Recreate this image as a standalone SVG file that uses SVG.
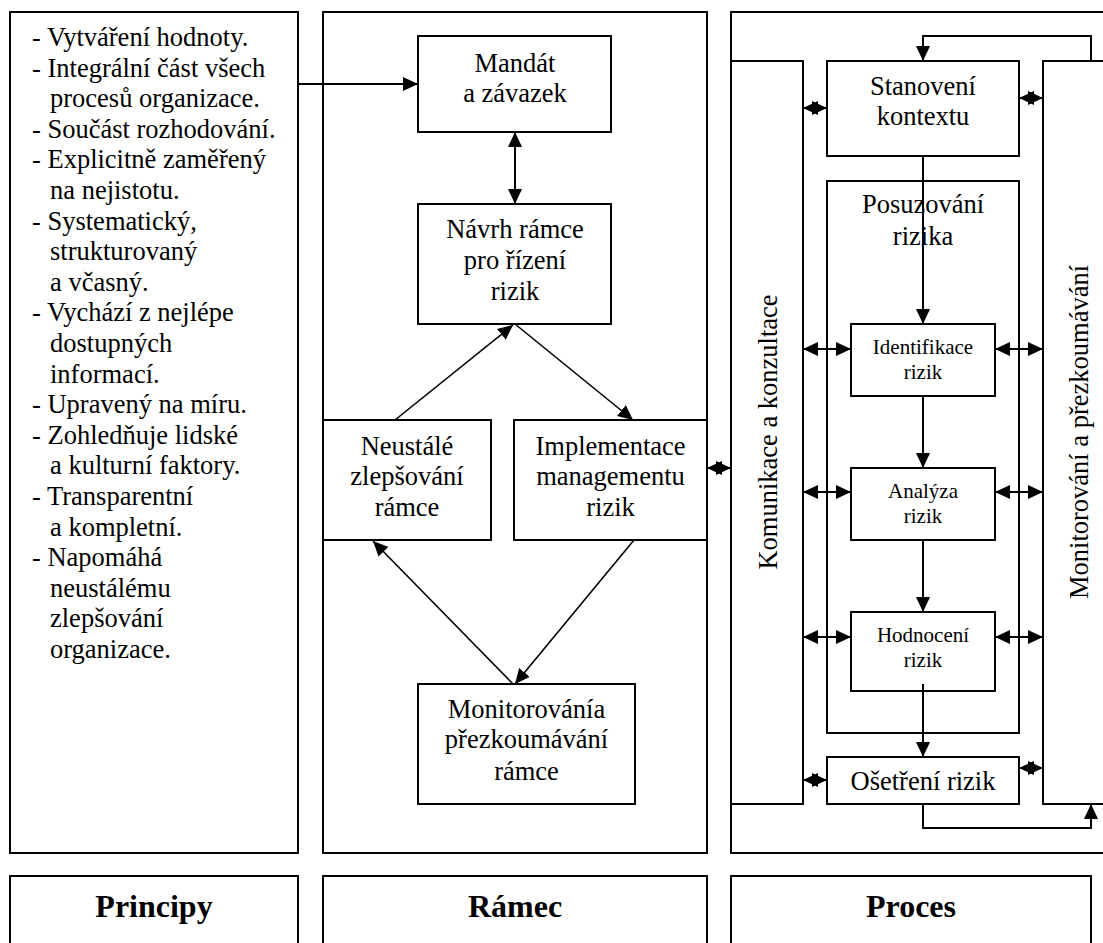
<svg xmlns="http://www.w3.org/2000/svg" width="1103" height="943" viewBox="0 0 1103 943">
<style>
.box{fill:#fff;stroke:#000;stroke-width:2}
.frame{fill:none;stroke:#000;stroke-width:2}
.t{font-family:"Liberation Serif","Times New Roman",serif;font-size:26.5px;fill:#000}
.c{text-anchor:middle}
.s{font-size:21px}
.b{font-family:"Liberation Serif","Times New Roman",serif;font-size:32px;font-weight:bold;text-anchor:middle}
.ln{fill:none;stroke:#000;stroke-width:2}
.d{fill:none;stroke:#000;stroke-width:1.6}
</style>
<defs>
<marker id="ah" markerUnits="userSpaceOnUse" markerWidth="15" markerHeight="14" refX="15" refY="7" orient="auto-start-reverse">
<path d="M0,0 L15,7 L0,14 z" fill="#000"/>
</marker>
</defs>
<rect width="1103" height="943" fill="#fff"/>

<g id="frames">
<rect class="frame" x="10" y="12" width="288" height="841"/>
<rect class="frame" x="323" y="12" width="384" height="841"/>
<rect class="frame" x="731" y="12" width="420" height="841"/>
</g>

<g id="principy">
<text class="t" x="32">
<tspan x="32" y="46">- Vytváření hodnoty.</tspan>
<tspan x="32" y="76.6">- Integrální část všech</tspan>
<tspan x="50" y="107.2">procesů organizace.</tspan>
<tspan x="32" y="137.8">- Součást rozhodování.</tspan>
<tspan x="32" y="168.4">- Explicitně zaměřený</tspan>
<tspan x="50" y="199">na nejistotu.</tspan>
<tspan x="32" y="229.6">- Systematický,</tspan>
<tspan x="50" y="260.2">strukturovaný</tspan>
<tspan x="50" y="290.8">a včasný.</tspan>
<tspan x="32" y="321.4">- Vychází z nejlépe</tspan>
<tspan x="50" y="352">dostupných</tspan>
<tspan x="50" y="382.6">informací.</tspan>
<tspan x="32" y="413.2">- Upravený na míru.</tspan>
<tspan x="32" y="443.8">- Zohledňuje lidské</tspan>
<tspan x="50" y="474.4">a kulturní faktory.</tspan>
<tspan x="32" y="505">- Transparentní</tspan>
<tspan x="50" y="535.6">a kompletní.</tspan>
<tspan x="32" y="566.2">- Napomáhá</tspan>
<tspan x="50" y="596.8">neustálému</tspan>
<tspan x="50" y="627.4">zlepšování</tspan>
<tspan x="50" y="658">organizace.</tspan>
</text>
</g>

<g id="mandat">
<rect class="box" x="418" y="36" width="193" height="96"/>
<text class="t c" x="515" y="72">Mandát</text>
<text class="t c" x="515" y="102">a závazek</text>
</g>
<g id="navrh">
<rect class="box" x="418" y="204" width="193" height="120"/>
<text class="t c" x="515" y="238">Návrh rámce</text>
<text class="t c" x="515" y="269">pro řízení</text>
<text class="t c" x="515" y="300">rizik</text>
</g>
<g id="neustale">
<rect class="box" x="323" y="420" width="168" height="120"/>
<text class="t c" x="407" y="455">Neustálé</text>
<text class="t c" x="407" y="485">zlepšování</text>
<text class="t c" x="407" y="516">rámce</text>
</g>
<g id="implementace">
<rect class="box" x="514" y="420" width="193" height="120"/>
<text class="t c" x="610.5" y="455">Implementace</text>
<text class="t c" x="610.5" y="485">managementu</text>
<text class="t c" x="610.5" y="516">rizik</text>
</g>
<g id="monitorovani-ramce">
<rect class="box" x="418" y="684" width="217" height="120"/>
<text class="t c" x="526.5" y="718">Monitorovánía</text>
<text class="t c" x="526.5" y="748">přezkoumávání</text>
<text class="t c" x="526.5" y="780">rámce</text>
</g>

<g id="komunikace">
<rect class="box" x="731" y="61" width="72" height="743"/>
<text class="t c" transform="translate(777 432) rotate(-90)" x="0" y="0">Komunikace a konzultace</text>
</g>
<g id="monitorovani">
<rect class="box" x="1043" y="61" width="100" height="743"/>
<text class="t c" transform="translate(1088 432) rotate(-90)" x="0" y="0">Monitorování a přezkoumávání</text>
</g>
<g id="stanoveni">
<rect class="box" x="827" y="61" width="192" height="95"/>
<text class="t c" x="923" y="95">Stanovení</text>
<text class="t c" x="923" y="125">kontextu</text>
</g>
<g id="posuzovani">
<rect class="box" x="827" y="181" width="192" height="552"/>
<text class="t c" x="923" y="213">Posuzování</text>
<text class="t c" x="923" y="245">rizika</text>
</g>
<g id="identifikace">
<rect class="box" x="851" y="324" width="144" height="72"/>
<text class="t s c" x="923" y="354">Identifikace</text>
<text class="t s c" x="923" y="379">rizik</text>
</g>
<g id="analyza">
<rect class="box" x="851" y="468" width="144" height="72"/>
<text class="t s c" x="923" y="498">Analýza</text>
<text class="t s c" x="923" y="523">rizik</text>
</g>
<g id="hodnoceni">
<rect class="box" x="851" y="612" width="144" height="79"/>
<text class="t s c" x="923" y="642">Hodnocení</text>
<text class="t s c" x="923" y="667">rizik</text>
</g>
<g id="osetreni">
<rect class="box" x="827" y="757" width="192" height="47"/>
<text class="t c" x="923" y="790">Ošetření rizik</text>
</g>

<g id="labels">
<rect class="box" x="10" y="876" width="288" height="100"/>
<text class="b" x="154" y="917">Principy</text>
<rect class="box" x="323" y="876" width="384" height="100"/>
<text class="b" x="515" y="917">Rámec</text>
<rect class="box" x="731" y="876" width="360" height="100"/>
<text class="b" x="911" y="917">Proces</text>
</g>

<g id="connectors">
<path class="ln" d="M298,84 H418" marker-end="url(#ah)"/>
<path class="ln" d="M515,132 V204" marker-start="url(#ah)" marker-end="url(#ah)"/>
<path class="d" d="M395,420 L513,325" marker-end="url(#ah)"/>
<path class="d" d="M515,324 L633,420" marker-end="url(#ah)"/>
<path class="d" d="M634,540 L515,684" marker-end="url(#ah)"/>
<path class="d" d="M513,684 L373,541" marker-end="url(#ah)"/>
<path class="ln" d="M707,468 H731" marker-start="url(#ah)" marker-end="url(#ah)"/>
<path class="ln" d="M803,108 H827" marker-start="url(#ah)" marker-end="url(#ah)"/>
<path class="ln" d="M1019,98 H1043" marker-start="url(#ah)" marker-end="url(#ah)"/>
<path class="ln" d="M803,780 H827" marker-start="url(#ah)" marker-end="url(#ah)"/>
<path class="ln" d="M1019,768 H1043" marker-start="url(#ah)" marker-end="url(#ah)"/>
<path class="ln" d="M803,349 H851" marker-start="url(#ah)" marker-end="url(#ah)"/>
<path class="ln" d="M995,349 H1043" marker-start="url(#ah)" marker-end="url(#ah)"/>
<path class="ln" d="M803,492 H851" marker-start="url(#ah)" marker-end="url(#ah)"/>
<path class="ln" d="M995,492 H1043" marker-start="url(#ah)" marker-end="url(#ah)"/>
<path class="ln" d="M803,637 H851" marker-start="url(#ah)" marker-end="url(#ah)"/>
<path class="ln" d="M995,637 H1043" marker-start="url(#ah)" marker-end="url(#ah)"/>
<path class="ln" d="M1091,61 V36 H923 V61" marker-end="url(#ah)"/>
<path class="ln" d="M923,804 V828 H1091 V804" marker-end="url(#ah)"/>
<path class="ln" d="M923,156 V324" marker-end="url(#ah)"/>
<path class="ln" d="M923,396 V468" marker-end="url(#ah)"/>
<path class="ln" d="M923,540 V612" marker-end="url(#ah)"/>
<path class="ln" d="M923,684 V757" marker-end="url(#ah)"/>
</g>
</svg>
